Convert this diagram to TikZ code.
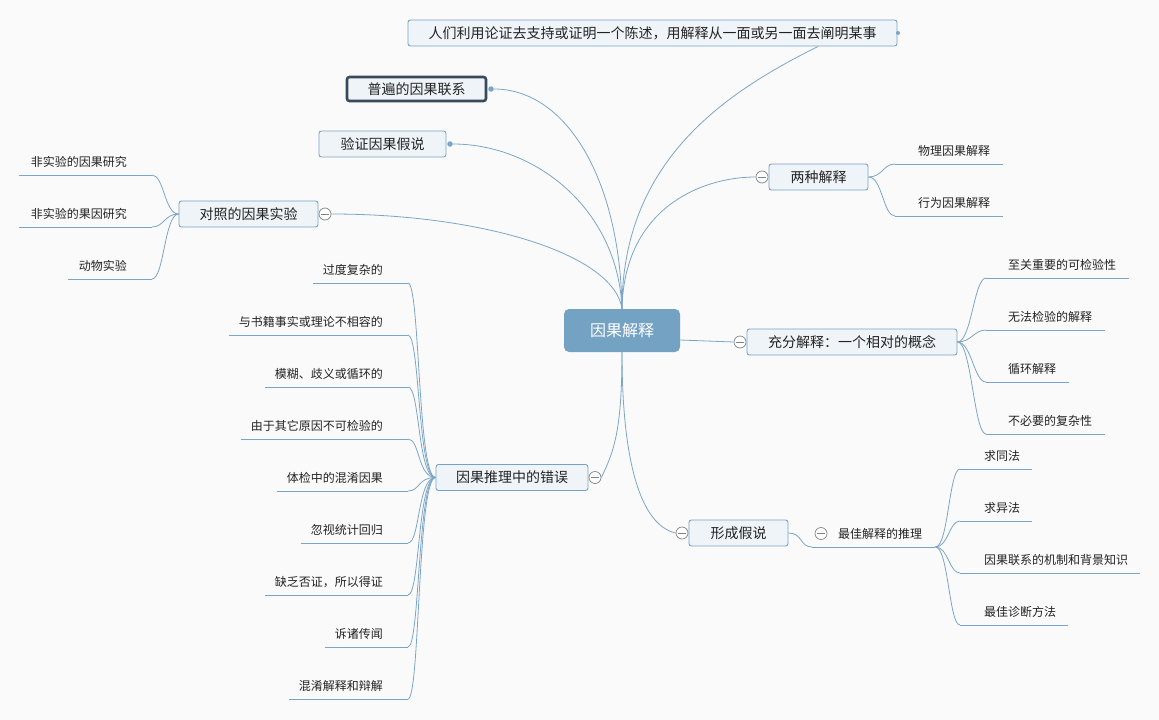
\documentclass[tikz,border=0pt]{standalone}
\usepackage{fontspec}
\usetikzlibrary{calc}
\newfontfamily\cjk{Noto Sans CJK SC}
\definecolor{bg}{RGB}{250,250,251}
\definecolor{linec}{RGB}{123,165,198}
\definecolor{boxfill}{RGB}{239,244,248}
\definecolor{boxdraw}{RGB}{120,162,196}
\definecolor{cfill}{RGB}{116,162,195}
\definecolor{dark}{RGB}{55,73,90}
\definecolor{txt}{RGB}{35,35,35}
\definecolor{foldc}{RGB}{130,130,130}
\begin{document}
\begin{tikzpicture}[x=1pt,y=-1pt,
  topic/.style={draw=boxdraw, fill=boxfill, rounded corners=2.5pt, line width=0.9pt, font=\cjk\fontsize{14}{16}\selectfont, text=txt, minimum height=26pt, inner sep=0pt},
  rootbox/.style={fill=cfill, rounded corners=5pt, minimum width=116pt, minimum height=43pt, inner sep=0pt, text=white, font=\cjk\fontsize{16}{18}\selectfont},
  leaf/.style={font=\cjk\fontsize{12}{14}\selectfont, text=txt, inner sep=0pt, text height=11pt, text depth=8.5pt},
  conn/.style={draw=linec, line width=0.8pt},
  fold/.style={circle, draw=foldc, fill=white, minimum size=12pt, inner sep=0pt, line width=0.7pt,
    path picture={\draw[foldc, line width=0.8pt] ([xshift=-4pt]path picture bounding box.center) -- ([xshift=4pt]path picture bounding box.center);}},
  dotm/.style={circle, fill=linec, minimum size=5.5pt, inner sep=0pt},
]
\fill[bg] (0,0) rectangle (1159,720);

% root
\node[rootbox] (root) at (622,330.5) {因果解释};

% main topics
\node[topic, minimum width=489pt] (top) at (652.5,33) {人们利用论证去支持或证明一个陈述，用解释从一面或另一面去阐明某事};
\node[topic, minimum width=139pt, minimum height=24pt, draw=dark, line width=2.6pt] (pb) at (416.5,89) {普遍的因果联系};
\node[topic, minimum width=127pt] (yz) at (382.5,144) {验证因果假说};
\node[topic, minimum width=139pt] (dz) at (248.5,214) {对照的因果实验};
\node[topic, minimum width=99pt] (lz) at (818.5,177) {两种解释};
\node[topic, minimum width=210pt] (cf) at (852,342) {充分解释：一个相对的概念};
\node[topic, minimum width=99pt] (xc) at (738.5,533) {形成假说};
\node[topic, minimum width=152pt] (cw) at (512,477.5) {因果推理中的错误};

% markers
\node[dotm, minimum size=4pt] (topd) at (898,33) {};
\node[dotm] (pbd) at (491,89) {};
\node[dotm] (yzd) at (450,144) {};
\node[fold] (fdz) at (325,214) {};
\node[fold] (flz) at (762,177) {};
\node[fold] (fcf) at (740,342) {};
\node[fold] (fxc) at (682,533) {};
\node[fold] (fcw) at (595,477.5) {};

% root connectors
\draw[conn] (root.north) .. controls +(0,-150) and +(-90,45) .. ($(top.south)+(165.5,0)$);
\draw[conn] (root.north) .. controls +(-2,-130) and +(75,0) .. (pbd);
\draw[conn] (root.north) .. controls +(-4,-100) and +(85,0) .. (yzd);
\draw[conn] (root.north) .. controls +(-8,-55) and +(150,0) .. (fdz.east);
\draw[conn] (root.north) .. controls +(2,-100) and +(-55,0) .. (flz.west);
\draw[conn] ($(root.east)+(0,9.5)$) -- (fcf.west);
\draw[conn] (root.south) .. controls +(0,80) and +(12,-25) .. (fcw.east);
\draw[conn] (root.south) .. controls +(0,110) and +(-35,-8) .. (fxc.west);

% 对照的因果实验 children
\node[leaf, anchor=south east] (d1) at (152,175) {\hspace*{12pt}非实验的因果研究\hspace*{25pt}};
\node[leaf, anchor=south east] (d2) at (152,227) {\hspace*{12pt}非实验的果因研究\hspace*{25pt}};
\node[leaf, anchor=south east] (d3) at (152,279) {\hspace*{11pt}动物实验\hspace*{25pt}};
\foreach \n in {d1,d2,d3}{
  \draw[conn] (\n.south west) -- (\n.south east);
  \draw[conn] (dz.west) .. controls +(-14,0) and +(12,0) .. (\n.south east);
}

% 两种解释 children
\node[leaf, anchor=south west] (l1) at (895,164) {\hspace*{23pt}物理因果解释\hspace*{13pt}};
\node[leaf, anchor=south west] (l2) at (895,216) {\hspace*{23pt}行为因果解释\hspace*{13pt}};
\foreach \n in {l1,l2}{
  \draw[conn] (\n.south west) -- (\n.south east);
  \draw[conn] (lz.east) .. controls +(14,0) and +(-12,0) .. (\n.south west);
}

% 充分解释 children
\node[leaf, anchor=south west] (c1) at (986,278) {\hspace*{22pt}至关重要的可检验性\hspace*{13pt}};
\node[leaf, anchor=south west] (c2) at (986,330) {\hspace*{22pt}无法检验的解释\hspace*{13pt}};
\node[leaf, anchor=south west] (c3) at (986,382) {\hspace*{22pt}循环解释\hspace*{13pt}};
\node[leaf, anchor=south west] (c4) at (986,434) {\hspace*{22pt}不必要的复杂性\hspace*{13pt}};
\foreach \n in {c1,c2,c3,c4}{
  \draw[conn] (\n.south west) -- (\n.south east);
  \draw[conn] (cf.east) .. controls +(14,0) and +(-12,0) .. (\n.south west);
}

% 形成假说 children
\node[leaf, anchor=south west] (bi) at (812,547) {\hspace*{26pt}最佳解释的推理\hspace*{13pt}};
\draw[conn] (bi.south west) -- (bi.south east);
\draw[conn] (xc.east) .. controls +(14,0) and +(-12,0) .. (bi.south west);
\node[fold] (fbi) at (821,533.5) {};
\node[leaf, anchor=south west] (b1) at (960,469) {\hspace*{24pt}求同法\hspace*{12pt}};
\node[leaf, anchor=south west] (b2) at (960,521) {\hspace*{24pt}求异法\hspace*{12pt}};
\node[leaf, anchor=south west] (b3) at (960,573) {\hspace*{24pt}因果联系的机制和背景知识\hspace*{12pt}};
\node[leaf, anchor=south west] (b4) at (960,625) {\hspace*{24pt}最佳诊断方法\hspace*{12pt}};
\foreach \n in {b1,b2,b3,b4}{
  \draw[conn] (\n.south west) -- (\n.south east);
  \draw[conn] (bi.south east) .. controls +(13,0) and +(-11,0) .. (\n.south west);
}

% 因果推理中的错误 children
\node[leaf, anchor=south east] (e1) at (408,283) {\hspace*{10pt}过度复杂的\hspace*{25pt}};
\node[leaf, anchor=south east] (e2) at (408,335) {\hspace*{10pt}与书籍事实或理论不相容的\hspace*{25pt}};
\node[leaf, anchor=south east] (e3) at (408,387) {\hspace*{10pt}模糊、歧义或循环的\hspace*{25pt}};
\node[leaf, anchor=south east] (e4) at (408,439) {\hspace*{10pt}由于其它原因不可检验的\hspace*{25pt}};
\node[leaf, anchor=south east] (e5) at (408,491) {\hspace*{10pt}体检中的混淆因果\hspace*{25pt}};
\node[leaf, anchor=south east] (e6) at (408,543) {\hspace*{10pt}忽视统计回归\hspace*{25pt}};
\node[leaf, anchor=south east] (e7) at (408,595) {\hspace*{10pt}缺乏否证，所以得证\hspace*{25pt}};
\node[leaf, anchor=south east] (e8) at (408,647) {\hspace*{10pt}诉诸传闻\hspace*{25pt}};
\node[leaf, anchor=south east] (e9) at (408,699) {\hspace*{10pt}混淆解释和辩解\hspace*{25pt}};
\foreach \n in {e1,e2,e3,e4,e5,e6,e7,e8,e9}{
  \draw[conn] (\n.south west) -- (\n.south east);
  \draw[conn] (cw.west) .. controls +(-18,0) and +(12,0) .. (\n.south east);
}
\end{tikzpicture}
\end{document}
